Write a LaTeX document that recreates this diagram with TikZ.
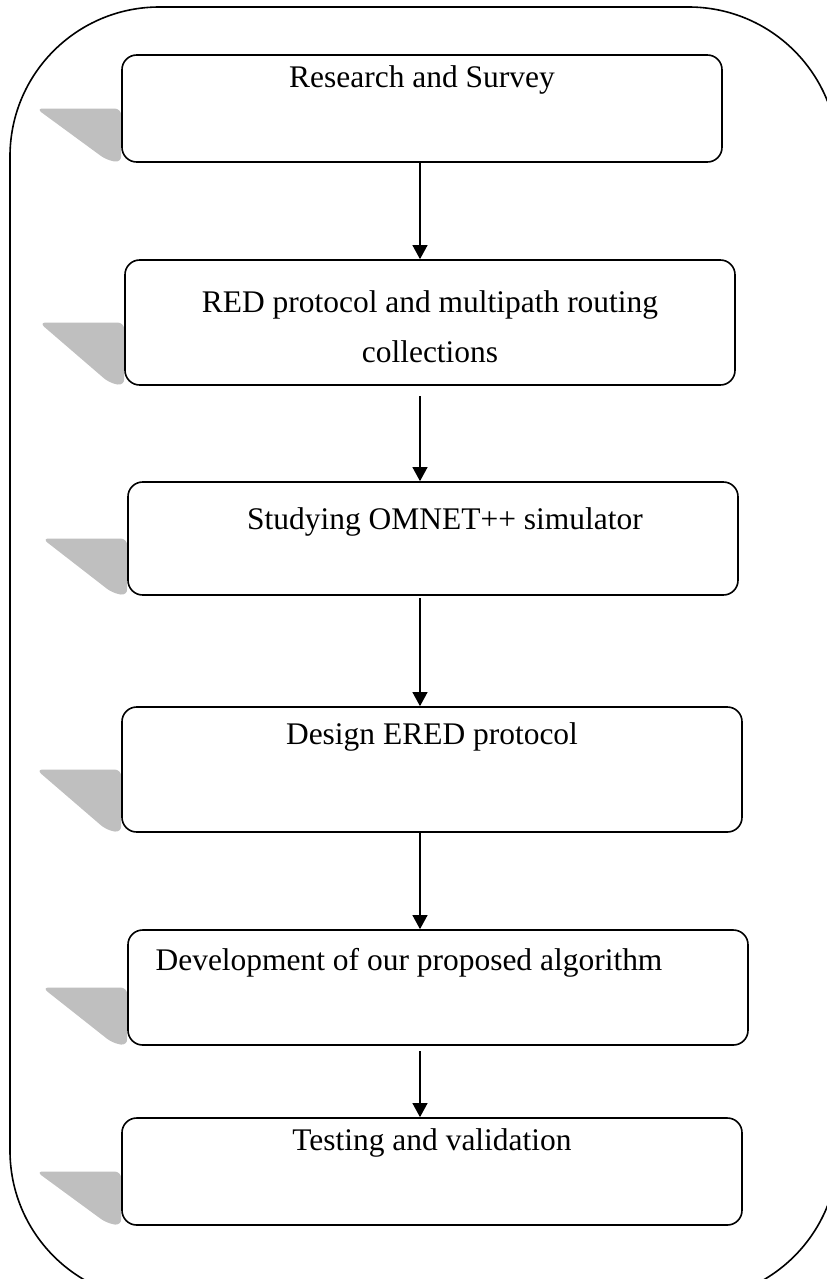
\documentclass[tikz,border=0pt]{standalone}
\usepackage{fontspec}
\setmainfont{Liberation Serif}
\usepackage{tikz}
\usetikzlibrary{arrows.meta, positioning, calc, backgrounds}

\begin{document}
\begin{tikzpicture}[
    x=0.75pt, y=-0.75pt,
    stage/.style = {rectangle, rounded corners=11pt, draw=black, line width=1.2pt,
                    fill=white, inner sep=0pt, text centered,
                    font=\fontsize{23.6}{28}\selectfont},
    frame/.style = {draw=black, line width=1.2pt, rounded corners=112pt},
    shade/.style = {fill=black!25, rounded corners=5pt},
    flow/.style  = {-{Triangle[length=10.5pt,width=11pt]}, line width=1.5pt},
]
\useasboundingbox (0,0) rectangle (827,1279);
\clip (0,0) rectangle (827,1279);

% ---- outer frame (runs past the page) ----
\draw[frame] (10,7) rectangle (838,1300);

% ---- stages, top to bottom ----
\node[stage, minimum width=450pt, text height=24pt, text depth=56.25pt]
     (survey) at (422,108.5) {Research and Survey};
\node[stage, minimum width=457.5pt, text height=76.5pt, text depth=17.25pt]
     (red) at (430,322.5)
     {\parbox[b]{440pt}{\centering\fontsize{23.6}{37.5}\selectfont
      RED protocol and multipath routing\\ collections}};
\node[stage, minimum width=457.5pt, text height=35.25pt, text depth=49.5pt]
     (omnet) at (433,538.5) {\hspace*{18pt}Studying OMNET++ simulator};
\node[stage, minimum width=465pt, text height=27.75pt, text depth=66pt]
     (ered) at (432,769.5) {Design ERED protocol};
\node[stage, minimum width=465pt, text height=30pt, text depth=56.25pt]
     (devel) at (438,987.5) {Development of our proposed algorithm\hspace*{43.5pt}};
\node[stage, minimum width=465pt, text height=24pt, text depth=56.25pt]
     (test) at (432,1171.5) {Testing and validation};

% ---- slanted shadows behind each stage ----
\begin{pgfonlayer}{background}
  \foreach \n in {survey,red,omnet,ered,devel,test}
    \fill[shade] ($(\n.west)+(-85,0)$) -- (\n.west) -- (\n.south west)
                 -- ($(\n.south west)+(-15,-3)$) -- cycle;
\end{pgfonlayer}

% ---- flow (top -> bottom) ----
\coordinate (axis) at (420,0);
\draw[flow] (survey.south -| axis) -- (red.north -| axis);
\draw[flow, shorten <=8pt] (red.south -| axis) -- (omnet.north -| axis);
\draw[flow, shorten <=2pt] (omnet.south -| axis) -- (ered.north -| axis);
\draw[flow] (ered.south -| axis) -- (devel.north -| axis);
\draw[flow, shorten <=4pt] (devel.south -| axis) -- (test.north -| axis);

\end{tikzpicture}
\end{document}
